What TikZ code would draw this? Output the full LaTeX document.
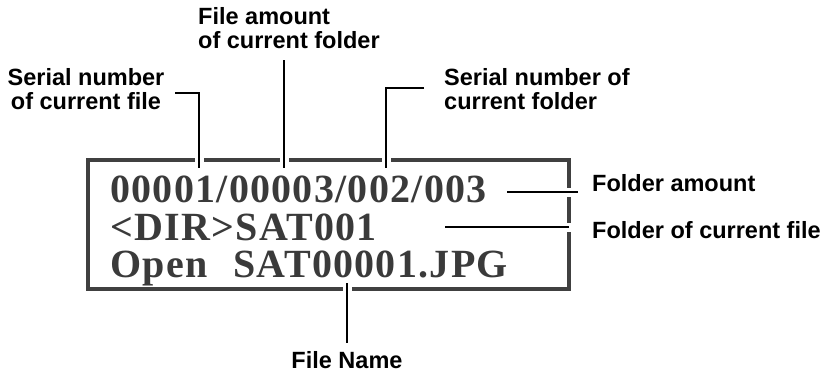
\documentclass[tikz,border=0pt]{standalone}
\usepackage{fontspec}
\setmainfont{Liberation Sans}
\newfontfamily\lcdfont[LetterSpace=3.2]{Liberation Serif}
\definecolor{lcdgray}{HTML}{3A3A3A}
\begin{document}
\begin{tikzpicture}[x=1pt,y=-1pt,
  lbl/.style={font=\fontsize{23.5}{24.5}\selectfont\bfseries, inner sep=0pt, anchor=base west, align=left},
  lcdtext/.style={font=\fontsize{40}{40}\selectfont\lcdfont\bfseries, text=lcdgray, inner sep=0pt, anchor=base west},
  conn/.style={draw=black, line width=2pt},
  gapline/.style={draw=white, line width=9pt},
  frame/.style={draw=black!75, line width=4.5pt, minimum width=481pt, minimum height=129pt, inner sep=0pt}]
\useasboundingbox (0,0) rectangle (834,373);
% display frame
\node[frame] (lcd) at (328.5,224.5) {};
% display text
\node[lcdtext] (l1) at (110,202) {00001/00003/002/003};
\node[lcdtext] (l2) at (110,240) {<DIR>SAT001};
\node[lcdtext] (l3) at (110,277) {Open\hspace{26pt}SAT00001.JPG};
% labels (anchor = baseline of the last line)
\node[lbl, align=center, anchor=base] (snfile) at (86,109.5) {Serial number\\of current file};
\node[lbl] (famount) at (198,48.5) {File amount\\of current folder};
\node[lbl] (snfolder) at (444,109.5) {Serial number of\\current folder};
\node[lbl] (famt) at (592,191) {Folder amount};
\node[lbl] (fcur) at (592,238) {Folder of current file};
\node[lbl, anchor=base] (fname) at (347,368) {File Name};
% connector points
\coordinate (c1a) at (175,93);
\coordinate (c1b) at (199,168);
\coordinate (c2a) at (284,60);
\coordinate (c2b) at (284,168);
\coordinate (c3a) at (424,88);
\coordinate (c3b) at (386,168);
\coordinate (c4a) at (507,192);
\coordinate (c4b) at (578,192);
\coordinate (c5a) at (445,227);
\coordinate (c5b) at (569,227);
\coordinate (c6a) at (347,283);
\coordinate (c6b) at (347,343);
% gaps in frame
\draw[gapline] ([yshift=-5pt]c1b |- lcd.north) -- ([yshift=5pt]c1b |- lcd.north);
\draw[gapline] ([yshift=-5pt]c2b |- lcd.north) -- ([yshift=5pt]c2b |- lcd.north);
\draw[gapline] ([yshift=-5pt]c3b |- lcd.north) -- ([yshift=5pt]c3b |- lcd.north);
\draw[gapline] ([xshift=-5pt]c4a -| lcd.east) -- ([xshift=5pt]c4a -| lcd.east);
\draw[gapline] ([xshift=-5pt]c5a -| lcd.east) -- ([xshift=5pt]c5a -| lcd.east);
\draw[gapline] ([yshift=-5pt]c6a |- lcd.south) -- ([yshift=5pt]c6a |- lcd.south);
% connectors
\draw[conn] (c1a) -| (c1b);
\draw[conn] (c2a) -- (c2b);
\draw[conn] (c3a) -| (c3b);
\draw[conn] (c4a) -- (c4b);
\draw[conn] (c5a) -- (c5b);
\draw[conn] (c6a) -- (c6b);
\end{tikzpicture}
\end{document}
